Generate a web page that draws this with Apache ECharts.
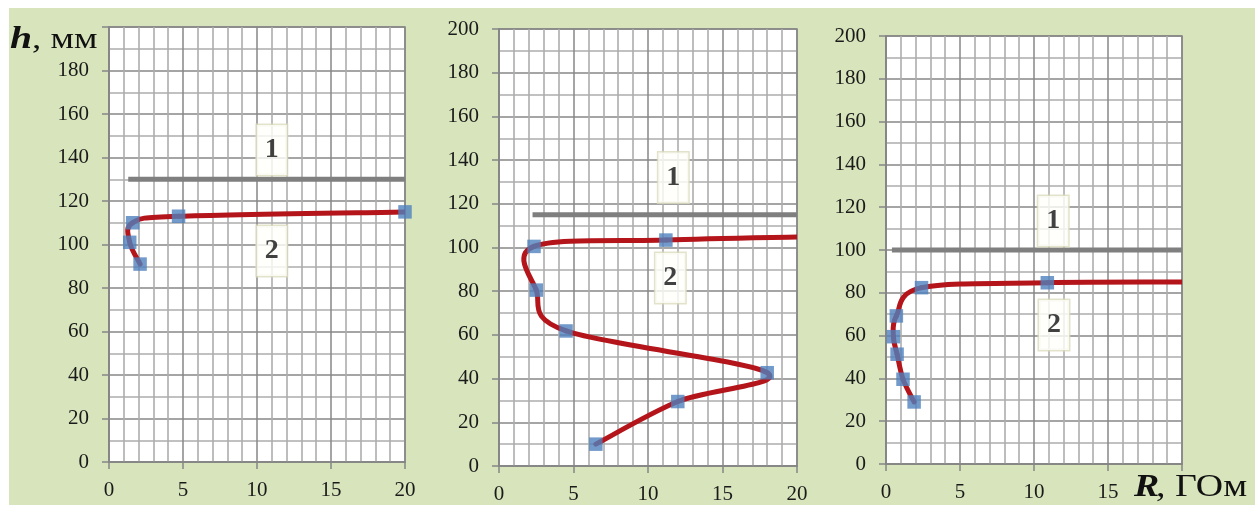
<!DOCTYPE html>
<html>
<head>
<meta charset="utf-8">
<script src="https://cdn.jsdelivr.net/npm/echarts@6/dist/echarts.min.js"></script>
<style>
html,body{margin:0;padding:0;background:#fff;}
#c{width:1260px;height:508px;}
</style>
</head>
<body>
<div id="c"></div>
<script>
// ---- data ----
const xTicks = [0, 5, 10, 15, 20];
const yTicks = [0, 20, 40, 60, 80, 100, 120, 140, 160, 180, 200];

// panel 1
const p1R = [2.1, 1.4, 1.6, 4.7, 20];
const p1H = [91, 101, 110, 113, 115];
const p1Markers = 5;
const p1LevelR = [1.3, 20];
const p1LevelH = [130, 130];

// panel 2
const p2R = [6.5, 12.0, 18.0, 4.5, 2.5, 2.35, 11.2, 20];
const p2H = [10, 29.5, 42.7, 61.8, 80.5, 100.5, 103.4, 104.8];
const p2Markers = 7;
const p2LevelR = [2.25, 20];
const p2LevelH = [115, 115];

// panel 3
const p3R = [1.9, 1.15, 0.75, 0.5, 0.7, 2.4, 10.9, 20];
const p3H = [29, 39.6, 51.3, 59.5, 69.2, 82.4, 84.7, 85];
const p3Markers = 7;
const p3LevelR = [0.4, 20];
const p3LevelH = [100, 100];

// curve tags ("1" = level line, "2" = measured curve)
const tagNames = ['1', '2'];
const p1TagR = [11, 11];   const p1TagH = [143.5, 97];
const p2TagR = [11.7, 11.5]; const p2TagH = [132, 86];
const p3TagR = [11.3, 11.35]; const p3TagH = [113.5, 65];

// ---- build ----
const zip = (a, b) => a.map((v, i) => [v, b[i]]);
const panels = [
  {R: p1R, H: p1H, n: p1Markers, LR: p1LevelR, LH: p1LevelH, TR: p1TagR, TH: p1TagH,
   grid: {left: 109, top: 27, width: 296, height: 435}, hideY: 200, hideX: null},
  {R: p2R, H: p2H, n: p2Markers, LR: p2LevelR, LH: p2LevelH, TR: p2TagR, TH: p2TagH,
   grid: {left: 499, top: 29, width: 298, height: 437}, hideY: null, hideX: null},
  {R: p3R, H: p3H, n: p3Markers, LR: p3LevelR, LH: p3LevelH, TR: p3TagR, TH: p3TagH,
   grid: {left: 886, top: 36, width: 296, height: 428}, hideY: null, hideX: 20}
];

// smooth curve through the data points (Catmull-Rom style, like a spreadsheet "smoothed line")
function smoothRenderer(points) {
  return function (params, api) {
    if (params.dataIndex !== 0) return null;
    const px = points.map(p => api.coord(p));
    const children = [];
    const n = px.length;
    for (let i = 0; i < n - 1; i++) {
      const p0 = px[Math.max(i - 1, 0)], p1 = px[i], p2 = px[i + 1], p3 = px[Math.min(i + 2, n - 1)];
      children.push({
        type: 'bezierCurve',
        shape: {
          x1: p1[0], y1: p1[1], x2: p2[0], y2: p2[1],
          cpx1: p1[0] + (p2[0] - p0[0]) / 6, cpy1: p1[1] + (p2[1] - p0[1]) / 6,
          cpx2: p2[0] - (p3[0] - p1[0]) / 6, cpy2: p2[1] - (p3[1] - p1[1]) / 6
        },
        style: {stroke: '#b3151b', lineWidth: 5, fill: null, lineCap: 'round'}
      });
    }
    return {type: 'group', children: children};
  };
}

const FONT = 'Liberation Serif';
const grids = [], xAxes = [], yAxes = [], series = [];
panels.forEach((p, i) => {
  grids.push(Object.assign({show: true, backgroundColor: '#fff', borderColor: '#858585', borderWidth: 1.5}, p.grid));
  const common = {
    gridIndex: i, type: 'value', min: 0,
    axisLine: {show: true, lineStyle: {color: '#858585', width: 1.5}},
    axisTick: {show: true, inside: false, length: 7, lineStyle: {color: '#858585', width: 1.5}},
    splitLine: {show: true, lineStyle: {color: '#878787', width: 1.5}},
    minorSplitLine: {show: true, lineStyle: {color: '#adadad', width: 1.6}},
    axisLabel: {color: '#1a1a1a', fontFamily: FONT, fontSize: 21}
  };
  xAxes.push(Object.assign({}, common, {
    max: xTicks[xTicks.length - 1], interval: xTicks[1] - xTicks[0],
    minorTick: {show: false, splitNumber: 5},
    axisLabel: Object.assign({}, common.axisLabel, {margin: 18,
      formatter: v => (v === p.hideX ? '' : String(v))})
  }));
  yAxes.push(Object.assign({}, common, {
    max: yTicks[yTicks.length - 1], interval: yTicks[1] - yTicks[0],
    minorTick: {show: false, splitNumber: 2},
    axisLabel: Object.assign({}, common.axisLabel, {margin: 20,
      formatter: v => (v === p.hideY ? '' : String(v))})
  }));
  series.push({
    type: 'line', xAxisIndex: i, yAxisIndex: i, data: zip(p.LR, p.LH),
    showSymbol: false, lineStyle: {color: '#7f7f7f', width: 5}, z: 2, silent: true
  });
  const pts = zip(p.R, p.H);
  series.push({
    type: 'custom', xAxisIndex: i, yAxisIndex: i, data: pts,
    encode: {x: 0, y: 1}, renderItem: smoothRenderer(pts), z: 3, silent: true, clip: true
  });
  series.push({
    type: 'scatter', xAxisIndex: i, yAxisIndex: i, data: pts.slice(0, p.n),
    symbol: 'rect', symbolSize: 13.5, itemStyle: {color: '#4f81bd'}, z: 4, silent: true
  });
  series.push({
    type: 'scatter', xAxisIndex: i, yAxisIndex: i,
    data: zip(p.TR, p.TH).map((v, k) => ({value: v, name: tagNames[k]})),
    symbolSize: 1, itemStyle: {color: 'rgba(0,0,0,0)'}, z: 5, silent: true,
    label: {show: true, position: 'inside', formatter: '{b}', fontFamily: FONT, fontWeight: 'bold',
      fontSize: 28, color: '#111', backgroundColor: '#fffffb', borderColor: '#dcdcbf', borderWidth: 1.5,
      padding: [11, 8, 11, 8], lineHeight: 28}
  });
});

const txt = (t, x, y, size, italicBold, sx) => ({
  type: 'text', x: x, y: y, scaleX: sx, z: 10, silent: true,
  style: {text: t, align: 'left', verticalAlign: 'top', fill: '#111', stroke: 'none', lineWidth: 0,
    fontFamily: FONT, fontSize: size,
    fontStyle: italicBold ? 'italic' : 'normal', fontWeight: italicBold ? 'bold' : 'normal'}
});

const chart = echarts.init(document.getElementById('c'), null, {renderer: 'canvas'});
chart.setOption({
  backgroundColor: '#fff',
  animation: false,
  grid: grids, xAxis: xAxes, yAxis: yAxes, series: series,
  graphic: [
    {type: 'rect', z: -100, silent: true,
     shape: {x: 9, y: 8, width: 1246, height: 497}, style: {fill: '#d8e4bc'}},
    txt('h', 10, 24, 31, true, 1.28),
    txt(', мм', 32, 26, 29, false, 1.28),
    txt('R', 1134, 472, 31, true, 1.22),
    txt(', ГОм', 1156, 472, 31, false, 1.22)
  ]
});
</script>
</body>
</html>
